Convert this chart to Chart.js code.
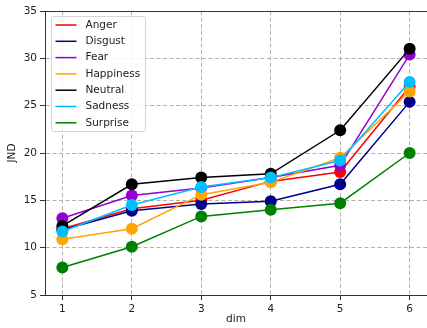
<!DOCTYPE html>
<html>
<head>
<meta charset="utf-8">
<script src="https://cdn.jsdelivr.net/npm/chart.js@4"></script>
<style>
  html, body { margin: 0; padding: 0; background: #fff; }
  #wrap { width: 427px; height: 328px; }
</style>
</head>
<body>
<div id="wrap"><canvas id="jndChart" width="427" height="328"></canvas></div>
<script>
// data
const dims = [1, 2, 3, 4, 5, 6];
const xTicks = [1, 2, 3, 4, 5, 6];
const yTicks = [5, 10, 15, 20, 25, 30, 35];

const anger     = [12.0, 14.1, 15.0, 17.0, 18.0, 27.0];
const disgust   = [11.9, 13.9, 14.6, 14.9, 16.7, 25.4];
const fear      = [13.1, 15.5, 16.3, 17.4, 18.7, 30.4];
const happiness = [10.9, 12.0, 15.6, 16.9, 19.5, 26.5];
const neutral   = [12.3, 16.7, 17.4, 17.8, 22.4, 31.0];
const sadness   = [11.7, 14.5, 16.4, 17.4, 19.2, 27.5];
const surprise  = [7.9, 10.1, 13.3, 14.0, 14.7, 20.0];

const seriesNames = ['Anger', 'Disgust', 'Fear', 'Happiness', 'Neutral', 'Sadness', 'Surprise'];
const seriesValues = [anger, disgust, fear, happiness, neutral, sadness, surprise];
const seriesColors = ['#ff0000', '#00008b', '#9400d3', '#ffa500', '#000000', '#00bfff', '#008000'];

const FONT = 'DejaVu Sans';
const TEXT = '#222';

function makeDataset(name, values, color, i) {
    return {
        label: name,
        data: values.map((v, k) => ({ x: dims[k], y: v })),
        borderColor: color,
        backgroundColor: color,
        borderWidth: 1.5,
        pointRadius: 6,
        pointHoverRadius: 6,
        pointBorderWidth: 0,
        pointBackgroundColor: color,
        tension: 0,
        clip: false,
        // later series drawn on top, like matplotlib
        order: seriesNames.length - i
    };
}

// top spine and a matplotlib style legend box
const frameAndLegend = {
    id: 'frameAndLegend',
    afterDraw(chart) {
        const ctx = chart.ctx;
        const a = chart.chartArea;
        ctx.save();
        ctx.strokeStyle = '#333';
        ctx.lineWidth = 1;
        ctx.beginPath();
        ctx.moveTo(a.left, a.top + 0.5);
        ctx.lineTo(a.right, a.top + 0.5);
        ctx.stroke();

        const bx = a.left + 6.5, by = a.top + 5.5, bw = 94, bh = 115;
        ctx.fillStyle = 'rgba(255,255,255,0.85)';
        ctx.strokeStyle = '#d6d6d6';
        ctx.beginPath();
        ctx.roundRect(bx, by, bw, bh, 2);
        ctx.fill();
        ctx.stroke();

        ctx.font = '10.5px "' + FONT + '"';
        ctx.textBaseline = 'middle';
        ctx.textAlign = 'left';
        seriesNames.forEach((name, i) => {
            const y = by + 8.5 + i * 16.3;
            ctx.strokeStyle = seriesColors[i];
            ctx.lineWidth = 1.5;
            ctx.beginPath();
            ctx.moveTo(bx + 4, y);
            ctx.lineTo(bx + 25, y);
            ctx.stroke();
            ctx.fillStyle = TEXT;
            ctx.fillText(name, bx + 34, y);
        });
        ctx.restore();
    }
};

new Chart(document.getElementById('jndChart').getContext('2d'), {
    type: 'line',
    data: { datasets: seriesNames.map((n, i) => makeDataset(n, seriesValues[i], seriesColors[i], i)) },
    options: {
        responsive: false,
        animation: false,
        events: [],
        layout: { autoPadding: false, padding: { top: 11, right: 0, left: 0, bottom: 0 } },
        plugins: { legend: { display: false }, tooltip: { enabled: false } },
        scales: {
            x: {
                type: 'linear',
                min: 0.75,
                max: 6.25,
                afterBuildTicks: s => { s.ticks = xTicks.map(v => ({ value: v })); },
                afterFit: s => { s.height = 33; s.paddingLeft = 0; s.paddingRight = 0; },
                ticks: { color: TEXT, font: { family: FONT, size: 10.5 }, padding: 3 },
                grid: { color: '#b0b0b0', lineWidth: 1, tickLength: 5, tickColor: '#333', tickBorderDash: [] },
                border: { color: '#333', width: 1, dash: [4, 2.5] },
                title: { display: true, text: 'dim', color: TEXT, font: { family: FONT, size: 10.5 }, padding: { top: 0, bottom: 2 } }
            },
            y: {
                min: 5,
                max: 35,
                afterBuildTicks: s => { s.ticks = yTicks.map(v => ({ value: v })); },
                afterFit: s => { s.width = 45; },
                ticks: { color: TEXT, font: { family: FONT, size: 10.5 }, padding: 3 },
                grid: { color: '#b0b0b0', lineWidth: 1, tickLength: 5, tickColor: '#333', tickBorderDash: [] },
                border: { color: '#333', width: 1, dash: [4, 2.5] },
                title: { display: true, text: 'JND', color: TEXT, font: { family: FONT, size: 10.5 }, padding: { top: 6, bottom: 0 } }
            }
        }
    },
    plugins: [frameAndLegend]
});
</script>
</body>
</html>
